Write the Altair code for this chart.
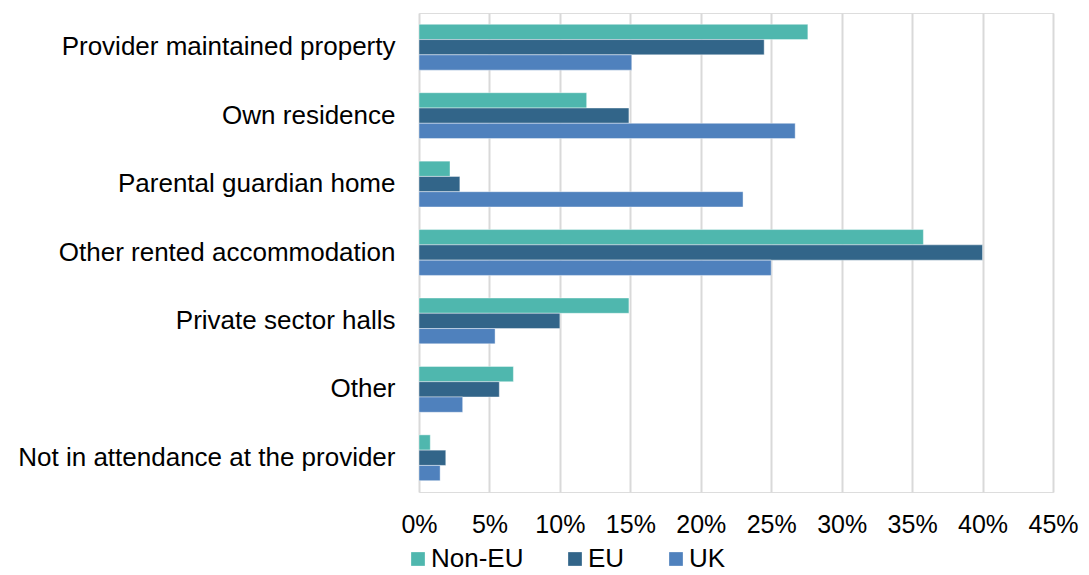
import altair as alt
import pandas as pd

categories = [
    "Provider maintained property",
    "Own residence",
    "Parental guardian home",
    "Other rented accommodation",
    "Private sector halls",
    "Other",
    "Not in attendance at the provider",
]
series = ["Non-EU", "EU", "UK"]
non_eu = [0.276, 0.119, 0.022, 0.358, 0.149, 0.067, 0.008]
eu = [0.245, 0.149, 0.029, 0.400, 0.100, 0.057, 0.019]
uk = [0.151, 0.267, 0.230, 0.250, 0.054, 0.031, 0.015]
tick_values = [0, 0.05, 0.10, 0.15, 0.20, 0.25, 0.30, 0.35, 0.40, 0.45]
colors = ["#4FB7AE", "#326589", "#4F81BD"]

rows = []
for name, vals in zip(series, [non_eu, eu, uk]):
    for c, v in zip(categories, vals):
        rows.append({"category": c, "series": name, "value": v})
df = pd.DataFrame(rows)

FONT = "Liberation Sans"
FS = 26

chart = (
    alt.Chart(df)
    .mark_bar(stroke="#ffffff", strokeWidth=0.6, strokeOpacity=0.7)
    .encode(
        y=alt.Y(
            "category:N",
            sort=categories,
            scale=alt.Scale(paddingInner=0.33, paddingOuter=0.165),
            axis=alt.Axis(
                title=None,
                domain=False,
                ticks=False,
                tickSize=0,
                labelPadding=24,
                labelFontSize=FS,
                labelFont=FONT,
                labelColor="#000000",
                labelLimit=500,
            ),
        ),
        yOffset=alt.YOffset("series:N", sort=series, scale=alt.Scale(domain=series, paddingInner=0, paddingOuter=0)),
        x=alt.X(
            "value:Q",
            scale=alt.Scale(domain=[0, 0.45], nice=False),
            axis=alt.Axis(
                title=None,
                values=tick_values,
                format=".0%",
                domain=False,
                ticks=False,
                tickSize=0,
                labelPadding=20,
                labelFontSize=25,
                labelFont=FONT,
                labelColor="#000000",
                grid=True,
                gridColor="#D9D9D9",
                gridWidth=2,
                labelFlush=False,
            ),
        ),
        color=alt.Color(
            "series:N",
            sort=series,
            scale=alt.Scale(domain=series, range=colors),
            legend=alt.Legend(
                title=None,
                orient="none",
                legendX=-14,
                legendY=533,
                direction="horizontal",
                symbolType="square",
                symbolSize=188,
                symbolStrokeWidth=0,
                labelFontSize=FS,
                labelFont=FONT,
                labelColor="#000000",
                labelOffset=0,
                columnPadding=38,
                padding=0,
            ),
        ),
    )
    .properties(
        width=634,
        height=479,
        autosize=alt.AutoSizeParams(type="none"),
        padding={"left": 411, "top": 5, "right": 28, "bottom": 82},
    )
    .configure_view(stroke=None)
    .configure(font=FONT)
)

chart.save("out.html", embed_options={"renderer": "svg", "actions": False})
